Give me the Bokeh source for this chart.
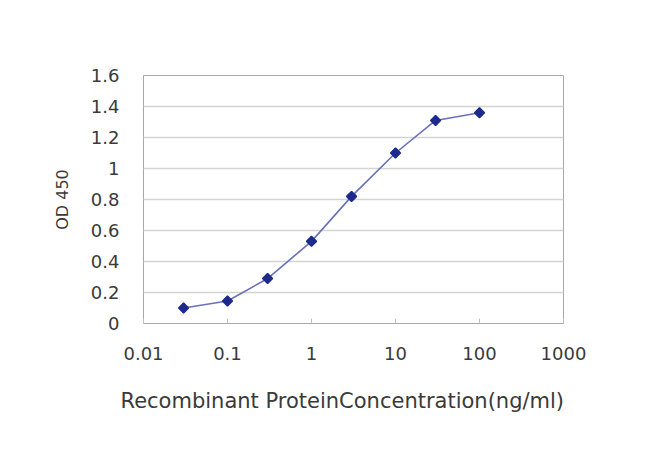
import math
from bokeh.plotting import figure
from bokeh.models import FixedTicker, CustomJSTickFormatter, Range1d, Title
from bokeh.embed import file_html
from bokeh.resources import INLINE

# data
concentration = [0.03, 0.1, 0.3, 1, 3, 10, 30, 100]
od450 = [0.10, 0.145, 0.29, 0.53, 0.82, 1.10, 1.31, 1.36]
x_ticks = [0.01, 0.1, 1, 10, 100, 1000]
y_ticks = [0, 0.2, 0.4, 0.6, 0.8, 1.0, 1.2, 1.4, 1.6]
x_title = "Recombinant ProteinConcentration(ng/ml)"
y_title = "OD 450"

p = figure(width=634, height=450, x_axis_type="log", output_backend="svg",
           toolbar_location=None,
           x_range=Range1d(0.01, 1000), y_range=Range1d(0, 1.6),
           min_border_left=143, min_border_right=71,
           min_border_top=75, min_border_bottom=127)
p.background_fill_color = "white"
p.border_fill_color = "white"
p.outline_line_color = "#a8a8a8"
p.outline_line_width = 1

p.line(concentration, od450, line_color="#6a70bb", line_width=1.6)
p.scatter(concentration, od450, marker="square", angle=math.pi / 4, size=7,
          fill_color="#1c2a8e", line_color="#1c2a8e", line_width=1.5)

font = "DejaVu Sans"
xa = p.xaxis[0]
xa.ticker = FixedTicker(ticks=x_ticks)
xa.formatter = CustomJSTickFormatter(code="return tick.toString();")
xa.axis_line_color = "#a8a8a8"
xa.major_tick_in = 5
xa.major_tick_out = 0
xa.major_tick_line_color = "#c0c0c0"
xa.minor_tick_line_color = None
xa.major_label_standoff = 23
xa.major_label_text_font = font
xa.major_label_text_font_size = "18px"
xa.major_label_text_color = "#3a3a3a"

p.add_layout(Title(text=x_title, align="left", offset=-23, standoff=48,
                   text_font=font, text_font_size="21px",
                   text_font_style="normal", text_color="#3a3a3a"), "below")

ya = p.yaxis[0]
ya.ticker = FixedTicker(ticks=y_ticks)
ya.formatter = CustomJSTickFormatter(code="return Number(tick.toFixed(1)).toString();")
ya.axis_line_color = None
ya.major_tick_line_color = None
ya.minor_tick_line_color = None
ya.major_label_standoff = 18
ya.major_label_text_font = font
ya.major_label_text_font_size = "18px"
ya.major_label_text_color = "#3a3a3a"
ya.axis_label = y_title
ya.axis_label_text_font = font
ya.axis_label_text_font_style = "normal"
ya.axis_label_text_font_size = "16px"
ya.axis_label_text_color = "#3a3a3a"
ya.axis_label_standoff = 16

p.xgrid.grid_line_color = None
p.ygrid.grid_line_color = "#d4d4d4"
p.ygrid.grid_line_width = 1.5

open("out.html", "w").write(file_html(p, INLINE))
